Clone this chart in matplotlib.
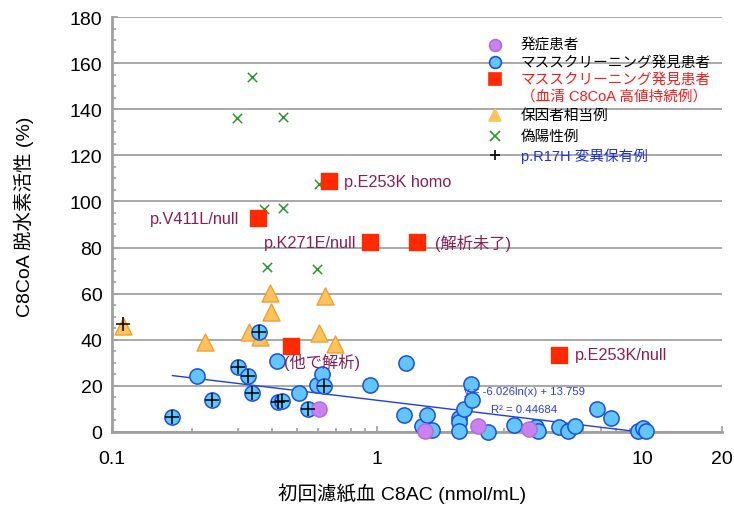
import matplotlib
matplotlib.use("Agg")
import matplotlib.pyplot as plt
import numpy as np
from matplotlib.ticker import MultipleLocator, LogLocator, NullFormatter, FixedLocator, FixedFormatter

plt.rcParams['font.family'] = ['Liberation Sans', 'Noto Sans CJK JP', 'DejaVu Sans']

# --- データ ---
# 発症患者
onset_x = [0.604, 1.52, 2.41, 3.74]
onset_y = [10.0, 0.5, 2.6, 1.5]

# マススクリーニング発見患者
ms_x = [0.169, 0.2096, 0.2385, 0.298, 0.325, 0.336, 0.357, 0.421, 0.424, 0.437,
        0.508, 0.549, 0.595, 0.619, 0.632, 0.944, 1.287, 1.265, 1.48, 1.542,
        1.61, 2.03, 2.03, 2.03, 2.12, 2.27, 2.29, 2.63, 3.29, 3.97,
        4.03, 4.84, 5.23, 5.6, 6.77, 7.63, 9.63, 10.1, 10.35]
ms_y = [6.5, 24.3, 13.9, 28.2, 24.3, 16.9, 43.4, 30.8, 13.0, 13.3,
        16.9, 10.0, 20.4, 25.2, 19.9, 20.4, 29.9, 7.4, 2.6, 7.4,
        0.9, 6.1, 4.3, 0.4, 10.0, 20.8, 13.9, 0.2, 3.0, 2.2,
        0.3, 2.2, 0.3, 2.6, 10.0, 6.1, 0.3, 1.7, 0.3]

# マススクリーニング発見患者（血清 C8CoA 高値持続例）
high_x = [0.658, 0.354, 0.944, 1.414, 0.475, 4.84]
high_y = [108.8, 92.8, 82.4, 82.4, 37.3, 33.4]
high_labels = ['p.E253K homo', 'p.V411L/null', 'p.K271E/null', '(解析未了)', '(他で解析)', 'p.E253K/null']

# 保因者相当例
carrier_x = [0.110, 0.2245, 0.328, 0.363, 0.393, 0.399, 0.604, 0.636, 0.693]
carrier_y = [46.0, 39.0, 43.4, 41.2, 60.3, 52.0, 42.9, 59.0, 38.2]

# 偽陽性例
fp_x = [0.336, 0.296, 0.443, 0.376, 0.443, 0.604, 0.383, 0.595]
fp_y = [154.0, 136.2, 136.6, 96.7, 97.1, 107.5, 71.6, 70.7]

# p.R17H 変異保有例
r17h_x = [0.110, 0.169, 0.2385, 0.298, 0.325, 0.336, 0.357, 0.424, 0.437, 0.549, 0.632]
r17h_y = [46.8, 6.5, 13.9, 28.2, 24.3, 16.9, 43.4, 13.0, 13.3, 10.0, 19.9]

# 近似曲線 y = a ln(x) + b
trend_a = -6.026
trend_b = 13.759
trend_r2 = 0.44684
trend_range = (0.169, 9.5)

fig = plt.figure(figsize=(7.34, 5.06), dpi=100)
ax = fig.add_axes([0.1526, 0.1443, 0.8310, 0.8201])

ax.set_xscale('log')
ax.set_xlim(0.1, 20)
ax.set_ylim(0, 180)

# グリッド・軸
ax.yaxis.set_major_locator(MultipleLocator(20))
ax.yaxis.set_minor_locator(MultipleLocator(5))
ax.grid(True, axis='y', which='major', color='#a8a8a8', linewidth=1.4)
ax.set_axisbelow(True)
for side in ['top', 'right']:
    ax.spines[side].set_visible(False)
for side in ['left', 'bottom']:
    ax.spines[side].set_color('#a0a0a0')
    ax.spines[side].set_linewidth(2)

ax.xaxis.set_major_locator(FixedLocator([0.1, 1, 10, 20]))
ax.xaxis.set_major_formatter(FixedFormatter(['0.1', '1', '10', '20']))
ax.xaxis.set_minor_locator(LogLocator(base=10, subs=np.arange(2, 10)))
ax.xaxis.set_minor_formatter(NullFormatter())

ax.tick_params(axis='both', which='both', direction='in', color='#a0a0a0', width=1.2)
ax.tick_params(axis='both', which='major', length=4, labelsize=14)
ax.tick_params(axis='both', which='minor', length=3)
ax.tick_params(axis='x', which='major', pad=13)
ax.tick_params(axis='y', which='major', pad=7)

ax.set_xlabel('初回濾紙血 C8AC (nmol/mL)', fontsize=14)
ax.xaxis.set_label_coords(0.476, -0.122)
ax.set_ylabel('C8CoA 脱水素活性 (%)', fontsize=14)
ax.yaxis.set_label_coords(-0.128, 0.52)

# 近似曲線
tx = np.geomspace(trend_range[0], trend_range[1], 50)
ax.plot(tx, trend_a * np.log(tx) + trend_b, color='#1f3fe0', linewidth=1, zorder=2.6)
ax.text(3.6, 17.8, f'y = {trend_a}ln(x) + {trend_b}', color='#2a3ee8', fontsize=8.2,
        ha='center', va='center', zorder=6)
ax.text(3.6, 9.9, f'R² = {trend_r2}', color='#2a3ee8', fontsize=8.2,
        ha='center', va='center', zorder=6)

# 点
ax.scatter(carrier_x, carrier_y, marker='^', s=150, facecolor='#ffc35e', edgecolor='#f0a030',
           linewidth=1, zorder=3, clip_on=False)
ax.scatter(fp_x, fp_y, marker='x', s=45, color='#2a9a2a', linewidth=1.1, zorder=3)
ax.scatter(ms_x, ms_y, marker='o', s=120, facecolor='#62c6fa', edgecolor='#1c4fdc',
           linewidth=1.1, zorder=4, clip_on=False)
ax.scatter(onset_x, onset_y, marker='o', s=120, facecolor='#c982ee', edgecolor='#b06ae0',
           linewidth=1, zorder=4.5, clip_on=False)
ax.scatter(high_x, high_y, marker='s', s=140, color='#ff2a00', zorder=5)
ax.scatter(r17h_x, r17h_y, marker='+', s=110, color='black', linewidth=1.1, zorder=5.5,
           clip_on=False)

# 症例ラベル
label_offsets = [(11, 0, 'left'), (-13, 0, 'right'), (-10, 0, 'right'),
                 (13, 0, 'left'), (-5, -11.5, 'left'), (11.5, 0, 'left')]
for x, y, lab, (dx, dy, ha) in zip(high_x, high_y, high_labels, label_offsets):
    ax.annotate(lab, xy=(x, y), xytext=(dx, dy), textcoords='offset points',
                ha=ha, va='center', fontsize=11.7, color='#8b1d56', zorder=6)

# 凡例
legend_items = [
    ('o', '#c982ee', '#b06ae0', '発症患者', 'black', 0.933),
    ('o', '#62c6fa', '#1c4fdc', 'マススクリーニング発見患者', 'black', 0.892),
    ('s', '#ff2a00', '#ff2a00', 'マススクリーニング発見患者', '#ff1a1a', 0.851),
    (None, None, None, '（血清 C8CoA 高値持続例）', '#ff1a1a', 0.810),
    ('^', '#ffc35e', '#ffc35e', '保因者相当例', 'black', 0.765),
    ('x', '#2a9a2a', '#2a9a2a', '偽陽性例', 'black', 0.714),
    ('+', 'black', 'black', 'p.R17H 変異保有例', '#1a2ee8', 0.667),
]
for mk, fc, ec, text, tc, yy in legend_items:
    if mk is not None:
        ax.plot([0.628], [yy], marker=mk, markersize=8.5 if mk in 'os^' else 7,
                markerfacecolor=fc, markeredgecolor=ec, markeredgewidth=1.2,
                linestyle='none', transform=ax.transAxes, zorder=7)
    ax.text(0.670, yy, text, transform=ax.transAxes, fontsize=10.5, color=tc,
            va='center', ha='left', zorder=7)

fig.savefig('out.png', dpi=100)
